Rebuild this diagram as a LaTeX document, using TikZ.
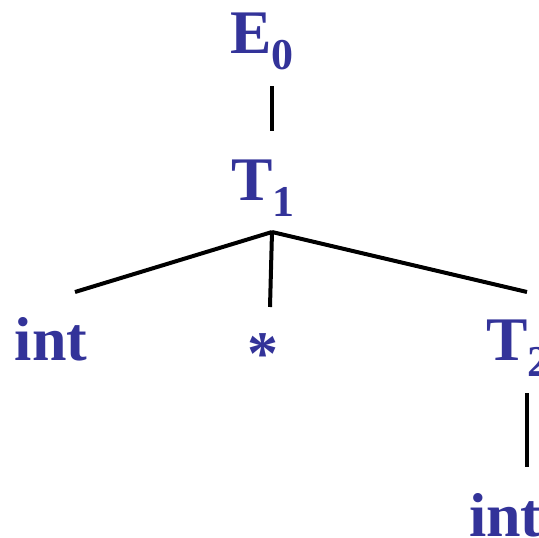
\documentclass[tikz,border=0pt]{standalone}
\usepackage{fontspec}
\setmainfont{Liberation Serif}
\definecolor{labelblue}{RGB}{51,51,153}
\tikzset{
  lbl/.style={inner sep=0pt, outer sep=0pt, anchor=base west, text=labelblue,
    font=\fontsize{62}{62}\selectfont\bfseries},
  edge/.style={line width=4pt, black}
}
\newcommand{\subtxt}[1]{\raisebox{-16pt}{\fontsize{44}{44}\selectfont\bfseries #1}}
\begin{document}
\begin{tikzpicture}[x=1pt,y=-1pt]
\useasboundingbox (0,0) rectangle (539,538);
\clip (0,0) rectangle (539,538);
\node[lbl] (E0) at (230,53) {E\subtxt{0}};
\node[lbl] (T1) at (231,200) {T\subtxt{1}};
\node[lbl] (intL) at (15,360) {int};
\node[lbl] (star) at (247,374) {*};
\node[lbl] (T2) at (486,360) {T\subtxt{2}};
\node[lbl] (intR) at (469,536) {int};
\coordinate (e0b) at (272,86);
\coordinate (t1t) at (272,131);
\coordinate (apex) at (272,232);
\coordinate (intLt) at (75,292);
\coordinate (start) at (270,307);
\coordinate (t2t) at (527,292);
\coordinate (t2b) at (527,393);
\coordinate (intRt) at (527,467);
\draw[edge] (e0b) -- (t1t);
\draw[edge] (apex) -- (intLt);
\draw[edge] (apex) -- (start);
\draw[edge] (apex) -- (t2t);
\draw[edge] (t2b) -- (intRt);
\end{tikzpicture}
\end{document}
